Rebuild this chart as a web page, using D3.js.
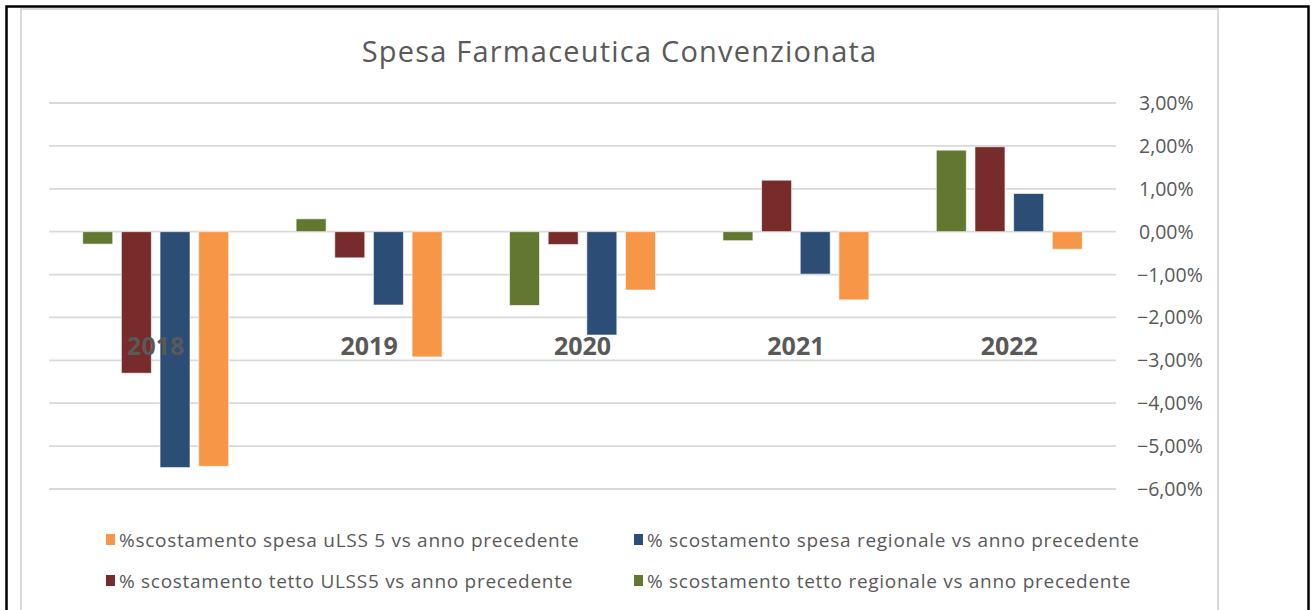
<!DOCTYPE html>
<html>
<head>
<meta charset="utf-8">
<script src="https://cdn.jsdelivr.net/npm/d3@7"></script>
<style>
  body { margin: 0; background: #fff; }
  svg { display: block; font-family: "Open Sans", sans-serif; }
</style>
</head>
<body>
<svg id="chart" width="1311" height="610"></svg>
<script>
var years = ["2018", "2019", "2020", "2021", "2022"];
// bar order inside each year group (left to right)
var seriesNames = [
    "% scostamento tetto regionale vs anno precedente",
    "% scostamento tetto ULSS5 vs anno precedente",
    "% scostamento spesa regionale vs anno precedente",
    "%scostamento spesa uLSS 5 vs anno precedente"
];
var tettoRegionale = [-0.29, 0.30, -1.72, -0.21, 1.90];
var tettoUlss5 = [-3.30, -0.61, -0.30, 1.20, 1.98];
var spesaRegionale = [-5.50, -1.71, -2.41, -0.99, 0.89];
var spesaUlss5 = [-5.47, -2.92, -1.36, -1.59, -0.41];
var yTicks = [3, 2, 1, 0, -1, -2, -3, -4, -5, -6];
// legend order as in the picture
var legendOrder = [3, 2, 1, 0];

var colors = ["#62772f", "#772b2a", "#2c4d75", "#f79646"];
var values = [tettoRegionale, tettoUlss5, spesaRegionale, spesaUlss5];

var svg = d3.select("#chart");

// frames
svg.append("rect")
    .attr("x", 6.5).attr("y", 6.5)
    .attr("width", 1302).attr("height", 620)
    .attr("fill", "none").attr("stroke", "#000").attr("stroke-width", 2.5);
svg.append("rect")
    .attr("x", 21).attr("y", 9)
    .attr("width", 1197).attr("height", 620)
    .attr("fill", "#fff").attr("stroke", "#d9d9d9").attr("stroke-width", 2);

svg.append("text")
    .attr("x", 619.5).attr("y", 62)
    .attr("text-anchor", "middle")
    .attr("fill", "#595959")
    .style("font-size", "29px")
    .style("letter-spacing", "1.2px")
    .text("Spesa Farmaceutica Convenzionata");

var x = d3.scaleBand().domain(years).range([49, 1116]);
var y = d3.scaleLinear().domain([-6, 3]).range([489, 103]);
var xs = d3.scaleBand().domain(d3.range(4))
    .range([x.bandwidth() * 0.158, x.bandwidth() * 0.842])
    .paddingInner(0.224);

// gridlines
svg.append("g").selectAll("line")
    .data(yTicks)
    .enter().append("line")
    .attr("x1", 49).attr("x2", 1116)
    .attr("y1", function (d) { return y(d); })
    .attr("y2", function (d) { return y(d); })
    .attr("stroke", "#d9d9d9").attr("stroke-width", 1.8);

// y labels on the right
svg.append("g").selectAll("text")
    .data(yTicks)
    .enter().append("text")
    .attr("x", function (d) { return d < 0 ? 1137 : 1139; })
    .attr("y", function (d) { return y(d) + 7; })
    .attr("fill", "#595959")
    .style("font-size", "19.5px")
    .text(function (d) { return d3.format(".2f")(d).replace(".", ",") + "%"; });

// bars
var groups = svg.append("g").selectAll("g")
    .data(years)
    .enter().append("g")
    .attr("transform", function (d) { return "translate(" + x(d) + ",0)"; });

groups.selectAll("rect")
    .data(function (d, i) {
        return values.map(function (v, s) { return { s: s, v: v[i] }; });
    })
    .enter().append("rect")
    .attr("x", function (d) { return xs(d.s); })
    .attr("width", xs.bandwidth())
    .attr("y", function (d) { return y(Math.max(0, d.v)); })
    .attr("height", function (d) { return Math.abs(y(d.v) - y(0)); })
    .attr("fill", function (d) { return colors[d.s]; })
    .attr("stroke", "#ffffff").attr("stroke-opacity", 0.6).attr("stroke-width", 1);

// category labels (drawn over the bars)
svg.append("g").selectAll("text")
    .data(years)
    .enter().append("text")
    .attr("x", function (d) { return x(d) + x.bandwidth() / 2; })
    .attr("y", 355)
    .attr("text-anchor", "middle")
    .attr("fill", "#595959")
    .style("font-size", "25px")
    .style("font-weight", "bold")
    .text(function (d) { return d; });

// legend
var legendPos = [[106, 540], [634, 540], [106, 581], [634, 581]];
var legend = svg.append("g").selectAll("g")
    .data(legendOrder)
    .enter().append("g")
    .attr("transform", function (d, i) { return "translate(" + legendPos[i][0] + "," + legendPos[i][1] + ")"; });
legend.append("rect")
    .attr("x", 0).attr("y", -6)
    .attr("width", 9).attr("height", 11)
    .attr("fill", function (d) { return colors[d]; });
legend.append("text")
    .attr("x", 13).attr("y", 7)
    .attr("fill", "#595959")
    .style("font-size", "19px")
    .style("letter-spacing", "0.72px")
    .text(function (d) { return seriesNames[d]; });
</script>
</body>
</html>
